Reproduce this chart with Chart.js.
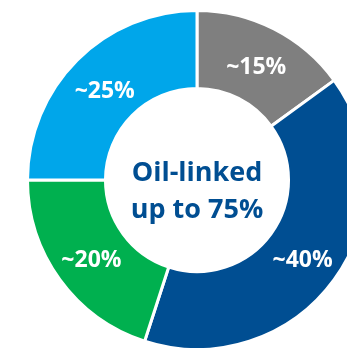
<!DOCTYPE html>
<html>
<head>
<meta charset="utf-8">
<script src="https://cdn.jsdelivr.net/npm/chart.js@4"></script>
<style>
    html, body { margin: 0; padding: 0; background: #fff; overflow: hidden; }
    body { width: 347px; height: 348px; position: relative; }
    #wrap { position: absolute; left: 26px; top: 9px; width: 342px; height: 342px; }
</style>
</head>
<body>
<div id="wrap"><canvas id="donut"></canvas></div>
<script>
const categories = ['Other', 'Oil-linked A', 'Oil-linked B', 'Oil-linked C'];
const shares = [15, 40, 20, 25];
const shareLabels = ['~15%', '~40%', '~20%', '~25%'];
const sliceColors = ['#7f7f7f', '#004e92', '#00b04f', '#00a6ea'];
const centerLines = ['Oil-linked', 'up to 75%'];

const FONT = '"Open Sans", "Noto Sans", sans-serif';

const sliceLabels = {
    id: 'sliceLabels',
    afterDatasetsDraw(chart) {
        const ctx = chart.ctx;
        const meta = chart.getDatasetMeta(0);
        ctx.save();
        ctx.fillStyle = '#ffffff';
        ctx.font = 'bold 23px ' + FONT;
        ctx.textAlign = 'center';
        ctx.textBaseline = 'middle';
        meta.data.forEach((arc, i) => {
            const p = arc.tooltipPosition();
            ctx.fillText(shareLabels[i], p.x, p.y + 4);
        });
        // centre text
        const c = meta.data[0];
        ctx.fillStyle = '#004e92';
        ctx.font = 'bold 27px ' + FONT;
        ctx.fillText(centerLines[0], c.x, c.y - 7);
        ctx.fillText(centerLines[1], c.x, c.y + 30);
        ctx.restore();
    }
};

new Chart(document.getElementById('donut'), {
    type: 'doughnut',
    data: {
        labels: categories,
        datasets: [{
            data: shares,
            backgroundColor: sliceColors,
            borderColor: '#ffffff',
            borderWidth: 3
        }]
    },
    options: {
        responsive: true,
        maintainAspectRatio: false,
        animation: false,
        cutout: '54%',
        layout: { padding: 0 },
        plugins: {
            legend: { display: false },
            tooltip: { enabled: false }
        }
    },
    plugins: [sliceLabels]
});
</script>
</body>
</html>
